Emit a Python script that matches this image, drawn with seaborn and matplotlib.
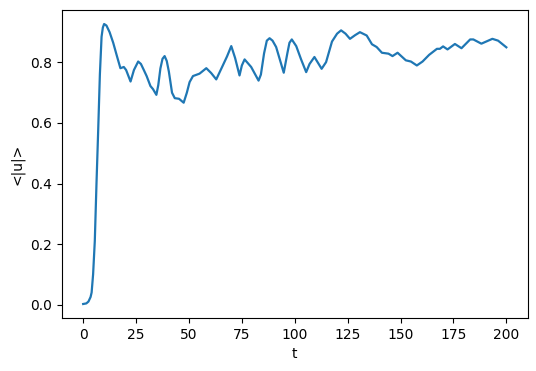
import matplotlib
matplotlib.use("Agg")
import matplotlib.pyplot as plt
import seaborn as sns
import pandas as pd

t = [0, 1.5, 2.5, 3.5, 4, 4.7, 5.5, 6.3, 7.1, 7.9, 8.7, 9.3, 9.9, 11, 12.5, 14.2, 16, 17.6, 19.2, 20.3,
     22.4, 24, 26, 27.3, 28.6, 30, 31.8, 33, 34.6, 35.5, 36.5, 37.5, 38.5, 39.5, 40.5, 42, 43.3, 45.3, 47.5,
     49, 50.3, 51.9, 55, 58.2, 60.5, 62.9, 66, 68, 70, 71.8, 73.9, 75, 76.3, 79.4, 82.9, 84,
     85.5, 86.8, 88.1, 89.5, 91.2, 94.8, 96.5, 97.5, 98.6, 100.7, 103, 105.4, 107, 109.3, 112.7, 114.8,
     117.6, 120, 121.9, 124, 126.1, 128.5, 130.8, 134, 136.5, 138.7, 141.2, 144.3, 146.2,
     148.6, 152.5, 154.9, 157.7, 160.4, 163.5, 167.2, 168.6, 170.1, 172.2, 175.7, 178.8,
     182.9, 184.4, 188.2, 193.4, 196.1, 200]
u = [0.002, 0.004, 0.01, 0.025, 0.04, 0.10, 0.21, 0.40, 0.575, 0.76, 0.885, 0.915, 0.927, 0.922, 0.90, 0.865, 0.82, 0.781, 0.785, 0.775,
     0.737, 0.775, 0.803, 0.795, 0.776, 0.755, 0.722, 0.712, 0.693, 0.725, 0.78, 0.812, 0.821, 0.805, 0.77, 0.70, 0.682, 0.680, 0.667,
     0.70, 0.735, 0.755, 0.763, 0.781, 0.765, 0.744, 0.790, 0.82, 0.854, 0.815, 0.757, 0.79, 0.810, 0.785, 0.740, 0.76,
     0.83, 0.872, 0.880, 0.872, 0.851, 0.766, 0.83, 0.865, 0.876, 0.854, 0.81, 0.768, 0.795, 0.818, 0.779, 0.801,
     0.869, 0.895, 0.906, 0.895, 0.878, 0.89, 0.900, 0.889, 0.860, 0.851, 0.832, 0.829, 0.821,
     0.832, 0.807, 0.803, 0.790, 0.803, 0.825, 0.845, 0.845, 0.853, 0.843, 0.861, 0.847,
     0.876, 0.876, 0.862, 0.878, 0.872, 0.850]

df = pd.DataFrame({"t": t, "u": u})

fig = plt.figure(figsize=(5.36, 3.71), dpi=100)
ax = fig.add_axes([62/536, 1 - 318/371, (527.5 - 62)/536, (318 - 10)/371])
sns.lineplot(data=df, x="t", y="u", ax=ax, color="#1f77b4", linewidth=1.6)
ax.set_xlabel("t")
ax.set_ylabel("<|u|>")
ax.set_xticks([0, 25, 50, 75, 100, 125, 150, 175, 200])
ax.set_yticks([0.0, 0.2, 0.4, 0.6, 0.8])
fig.savefig("out.png", dpi=100)
